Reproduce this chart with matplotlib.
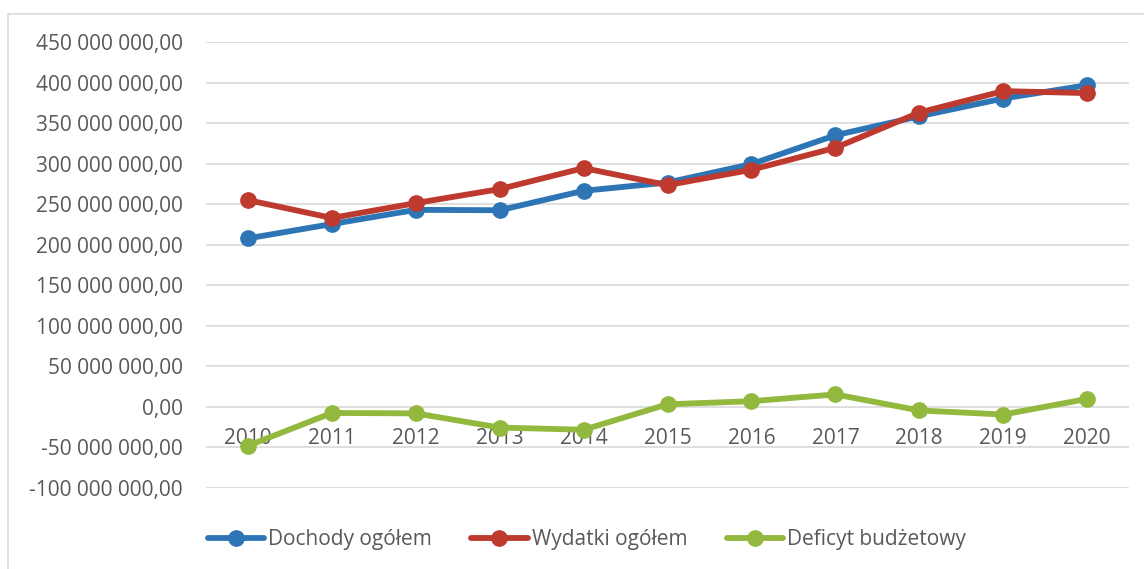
import matplotlib.pyplot as plt
from matplotlib.ticker import FuncFormatter, MultipleLocator
from matplotlib.patches import Rectangle

# data
years = ['2010', '2011', '2012', '2013', '2014', '2015', '2016', '2017', '2018', '2019', '2020']
dochody = [207.8e6, 225.5e6, 243.0e6, 242.5e6, 266.5e6, 276.7e6, 299.4e6, 335.0e6, 358.4e6, 380.3e6, 396.7e6]
wydatki = [255.0e6, 233.0e6, 251.3e6, 268.6e6, 294.5e6, 273.5e6, 292.4e6, 319.5e6, 363.0e6, 389.4e6, 387.0e6]
deficyt = [-48.0e6, -7.5e6, -8.0e6, -25.5e6, -28.2e6, 3.2e6, 7.0e6, 15.4e6, -4.4e6, -9.4e6, 9.8e6]

plt.rcParams['font.family'] = ['Open Sans', 'DejaVu Sans']
grey = '#595959'

fig = plt.figure(figsize=(11.44, 5.69), dpi=100)
ax = fig.add_axes([0.180, 0.1424, 0.807, 0.7838])

x = range(len(years))
style = dict(lw=4.2, marker='o', ms=11, solid_capstyle='round')
ax.plot(x, dochody, color='#2E75B6', label='Dochody ogółem', **style)
ax.plot(x, wydatki, color='#BE3A2E', label='Wydatki ogółem', **style)
ax.plot(x, deficyt, color='#93B83E', label='Deficyt budżetowy', **style)

ax.set_xlim(-0.5, len(years) - 0.5)
ax.set_ylim(-100e6, 450e6)
ax.yaxis.set_major_locator(MultipleLocator(50e6))
ax.yaxis.set_major_formatter(FuncFormatter(
    lambda v, p: f'{v:,.2f}'.replace(',', ' ').replace('.', ',')))
ax.set_xticks(list(x))
ax.set_xticklabels(years)

ax.grid(axis='y', color='#D9D9D9', lw=1.2)
ax.set_axisbelow(True)
for s in ['top', 'right', 'left']:
    ax.spines[s].set_visible(False)
# category labels sit next to the zero line, as in Excel
ax.spines['bottom'].set_position(('data', 0))
ax.spines['bottom'].set_visible(False)
ax.tick_params(axis='y', length=0, pad=16.5, labelsize=15, labelcolor=grey)
ax.tick_params(axis='x', length=0, pad=15, labelsize=15, labelcolor=grey)

fig.legend(loc='lower center', bbox_to_anchor=(0.513, 0.0), ncol=3, frameon=False,
           fontsize=15, labelcolor=grey, handlelength=2.7, handletextpad=0.2,
           columnspacing=1.9)

# chart area border (only top and left edges fall inside the image)
fig.patches.append(Rectangle((8 / 1144, -10 / 569), 1146 / 1144, 565 / 569,
                             transform=fig.transFigure, fill=False,
                             edgecolor='#D9D9D9', lw=1.2))

fig.savefig('out.png', dpi=100)
